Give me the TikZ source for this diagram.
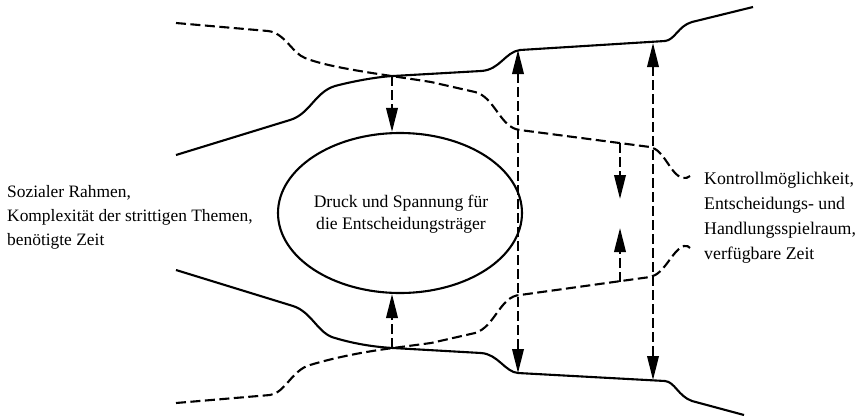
\documentclass[tikz,border=0pt]{standalone}
\usepackage{fontspec}
\setmainfont{Liberation Serif}
\usetikzlibrary{arrows.meta,shapes.geometric}
\begin{document}
\begin{tikzpicture}[x=1pt,y=-1pt,
  solidcurve/.style={line width=2.1pt, line join=round},
  dashcurve/.style={line width=2.1pt, dash pattern=on 10pt off 4.5pt},
  darrow/.style={line width=2.1pt, dash pattern=on 10pt off 4pt, -{Triangle[length=24pt,width=11.5pt]}},
  ddarrow/.style={line width=2.1pt, dash pattern=on 10pt off 4pt, {Triangle[length=24pt,width=11.5pt]}-{Triangle[length=24pt,width=11.5pt]}},
  lbl/.style={font=\fontsize{17.4}{24}\selectfont, inner sep=0pt, align=left}]
\useasboundingbox (0,0) rectangle (862,416);

% top solid boundary
\draw[solidcurve] (176,155) -- (290,120) .. controls (310,114) and (315,92) .. (335,86)
  .. controls (350,82) and (375,77) .. (393,76) -- (481,71)
  .. controls (500,70) and (505,52) .. (520,50) -- (665,41)
  .. controls (675,40) and (678,26) .. (692,22) -- (753,7);
% bottom solid boundary
\draw[solidcurve] (176,270) -- (293,306) .. controls (312,312) and (318,334) .. (335,338)
  .. controls (355,344) and (375,347) .. (393,348) -- (481,353)
  .. controls (498,354) and (505,372) .. (518,373) -- (665,381)
  .. controls (675,382) and (678,396) .. (692,401) -- (744,415);
% top dashed
\draw[dashcurve] (176,23) -- (268,31) .. controls (285,33) and (292,53) .. (305,58)
  .. controls (330,68) and (380,74) .. (431,82) -- (475,92)
  .. controls (495,97) and (500,128) .. (520,130) -- (650,147)
  .. controls (665,150) and (670,175) .. (683,178) .. controls (686,179) and (688,177) .. (690,176);
% bottom dashed
\draw[dashcurve] (176,403) -- (270,395) .. controls (285,393) and (292,370) .. (310,365)
  .. controls (340,356) and (370,351) .. (393,348) -- (431,343) -- (475,333)
  .. controls (495,327) and (500,296) .. (520,295) -- (650,277)
  .. controls (665,274) and (672,250) .. (684,246) .. controls (687,245) and (689,247) .. (690,248);

% ellipse
\node[draw, line width=2.1pt, ellipse, minimum width=244pt, minimum height=160pt, inner sep=0pt] (ell) at (400,213) {};
\node[font=\fontsize{17.6}{22}\selectfont, align=center, inner sep=0pt] (elltext) at (401,214)
  {Druck und Spannung für\\die Entscheidungsträger};

% coordinates
\coordinate (ct) at (392,76);
\coordinate (cb) at (392,348);
\coordinate (a1t) at (518,50);
\coordinate (a1b) at (518,373);
\coordinate (a2t) at (653,43);
\coordinate (a2b) at (653,380);
\coordinate (s1s) at (620,143);
\coordinate (s1e) at (620,199);
\coordinate (s2s) at (620,282);
\coordinate (s2e) at (620,228);

\draw[darrow] (ct) -- (ct |- ell.north);
\draw[darrow] (cb) -- (cb |- ell.south);
\draw[ddarrow] (a1t) -- (a1b);
\draw[ddarrow] (a2t) -- (a2b);
\draw[darrow] (s1s) -- (s1e);
\draw[darrow] (s2s) -- (s2e);

% labels
\node[lbl, anchor=west] (left) at (7,217) {Sozialer Rahmen,\\Komplexität der strittigen Themen,\\benötigte Zeit};
\node[lbl, anchor=west, font=\fontsize{17.8}{25}\selectfont] (right) at (704,217.5) {Kontrollmöglichkeit,\\Entscheidungs- und\\Handlungsspielraum,\\verfügbare Zeit};
\end{tikzpicture}
\end{document}
